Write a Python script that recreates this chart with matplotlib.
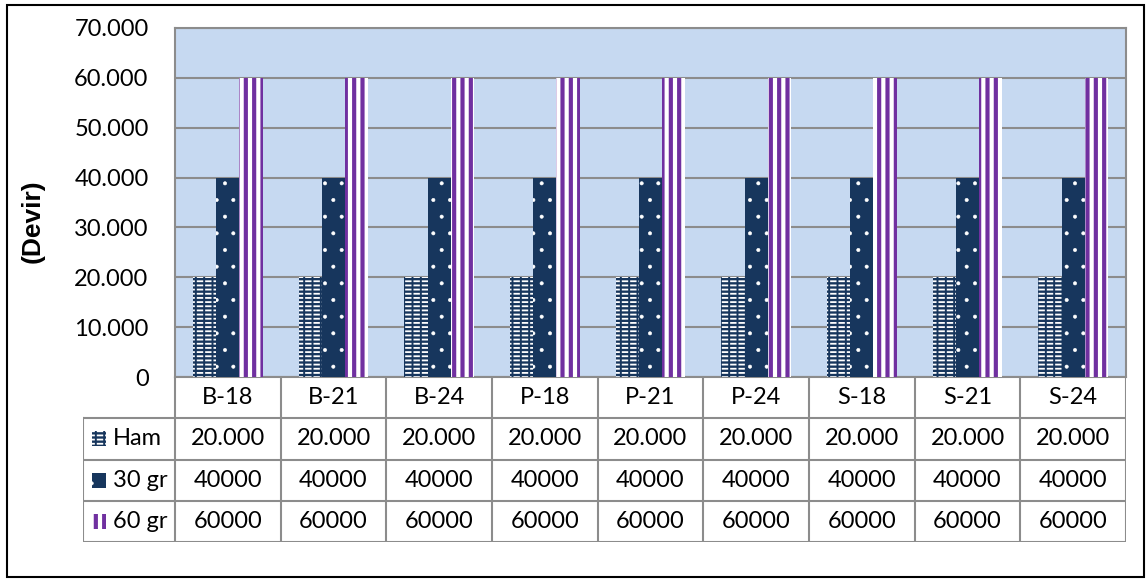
import matplotlib
matplotlib.use("Agg")
import matplotlib.pyplot as plt
import matplotlib.patches as mpatches
import numpy as np

# ── datos ──
kategoriler = ["B-18", "B-21", "B-24", "P-18", "P-21", "P-24", "S-18", "S-21", "S-24"]
ham   = [20000, 20000, 20000, 20000, 20000, 20000, 20000, 20000, 20000]
gr30  = [40000, 40000, 40000, 40000, 40000, 40000, 40000, 40000, 40000]
gr60  = [60000, 60000, 60000, 60000, 60000, 60000, 60000, 60000, 60000]
seri_adlari = ["Ham", "30 gr", "60 gr"]
tablo_metin = [
    ["20.000"] * 9,
    ["40000"] * 9,
    ["60000"] * 9,
]
y_ticks = [0, 10000, 20000, 30000, 40000, 50000, 60000, 70000]

W, H = 1146, 579
NAVY = "#17365D"
MOR = "#7030A0"
ARKA = "#C6D9F1"
GRI = "#8C8C8C"

plt.rcParams["font.family"] = ["Lato", "DejaVu Sans"]

fig = plt.figure(figsize=(W / 100, H / 100), dpi=100)
fig.patch.set_facecolor("white")


def px(x0, y0, x1, y1):
    return [x0 / W, 1 - y1 / H, (x1 - x0) / W, (y1 - y0) / H]


def hatch_lw(patch, lw):
    if hasattr(patch, "set_hatch_linewidth"):
        patch.set_hatch_linewidth(lw)


# ── grafik ──
ax = fig.add_axes(px(175, 28, 1126, 377))
ax.set_facecolor(ARKA)
x = np.arange(len(kategoriler))
bw = 0.22


def ham_bar(ax, xs, ys, w, **kw):
    bars = ax.bar(xs, ys, w, color=NAVY, edgecolor="white", hatch="----", linewidth=0, **kw)
    for b in bars:
        hatch_lw(b, 1.3)
    ust = ax.bar(xs, ys, w, color="none", edgecolor=NAVY, hatch="||", linewidth=0, **kw)
    for b in ust:
        hatch_lw(b, 1.4)
    return bars


def gr30_bar(ax, xs, ys, w, **kw):
    bars = ax.bar(xs, ys, w, color=NAVY, edgecolor="white", hatch=".", linewidth=0, **kw)
    for b in bars:
        hatch_lw(b, 0.4)
    return bars


def gr60_bar(ax, xs, ys, w, **kw):
    bars = ax.bar(xs, ys, w, color="white", edgecolor=MOR, hatch="||", linewidth=0, **kw)
    for b in bars:
        hatch_lw(b, 3.0)
    return bars


ham_bar(ax, x - bw, ham, bw, zorder=3)
gr30_bar(ax, x, gr30, bw, zorder=3)
gr60_bar(ax, x + bw, gr60, bw, zorder=3)

ax.set_xlim(-0.5, len(kategoriler) - 0.5)
ax.set_ylim(0, 70000)
ax.set_yticks(y_ticks)
ax.set_yticklabels([f"{v:,.0f}".replace(",", ".") for v in y_ticks], fontsize=17)
ax.tick_params(axis="y", length=0, pad=19)
ax.set_xticks([])
ax.grid(axis="y", color=GRI, linewidth=1.5, zorder=1)
ax.set_axisbelow(True)
for s in ax.spines.values():
    s.set_color(GRI)
    s.set_linewidth(1.5)

fig.text(33 / W, 1 - 221 / H, "(Devir)", rotation=90, ha="center", va="center",
         fontsize=19, fontweight="bold", family=["Liberation Sans", "DejaVu Sans"])

# ── veri tablosu ──
tax = fig.add_axes(px(83, 377, 1126, 542))
lab_w = (175 - 83) / ((1126 - 175) / len(kategoriler))
x0 = -0.5 - lab_w
tax.set_xlim(x0, len(kategoriler) - 0.5)
tax.set_ylim(4, 0)
tax.axis("off")

kw_l = dict(color=GRI, linewidth=1.5, solid_capstyle="projecting")
for r in range(1, 5):
    tax.plot([x0, len(kategoriler) - 0.5], [r, r], **kw_l)
tax.plot([x0, x0], [1, 4], **kw_l)
for i in range(len(kategoriler) + 1):
    tax.plot([i - 0.5, i - 0.5], [0, 4], **kw_l)

for i, k in enumerate(kategoriler):
    tax.text(i, 0.5, k, ha="center", va="center", fontsize=17)
for r, satir in enumerate(tablo_metin):
    for i, v in enumerate(satir):
        tax.text(i, r + 1.5, v, ha="center", va="center", fontsize=17)

# lejant kutulari
kutu_x = x0 + 9 / 105.6
kutu_w = 14 / 105.6
kutu_h = 0.36
cizim = [ham_bar, gr30_bar, gr60_bar]
for r, (ad, fn) in enumerate(zip(seri_adlari, cizim)):
    yc = r + 1.5
    fn(tax, [kutu_x + kutu_w / 2], [kutu_h], kutu_w, bottom=yc - kutu_h / 2, zorder=3)
    tax.text(x0 + 30 / 105.6, yc, ad, ha="left", va="center", fontsize=17)

# dis cerceve
fig.patches.append(mpatches.Rectangle((7 / W, 1 - 577 / H), (1144 - 7) / W, (577 - 5) / H,
                                      transform=fig.transFigure, fill=False,
                                      edgecolor="black", linewidth=1.5))

fig.savefig("out.png", dpi=100)
